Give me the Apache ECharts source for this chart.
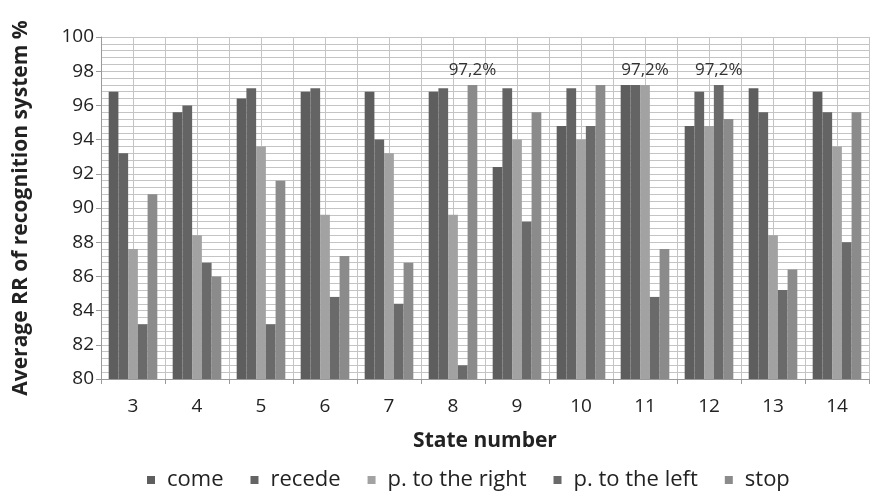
<!DOCTYPE html>
<html>
<head>
<meta charset="utf-8">
<script src="https://cdn.jsdelivr.net/npm/echarts@6/dist/echarts.min.js"></script>
<style>html,body{margin:0;padding:0;background:#fff}#c{width:871px;height:494px}</style>
</head>
<body>
<div id="c"></div>
<script>
const categories = ['3','4','5','6','7','8','9','10','11','12','13','14'];
const seriesNames = ['come','recede','p. to the right','p. to the left','stop'];
const come        = [96.8, 95.6, 96.4, 96.8, 96.8, 96.8, 92.4, 94.8, 97.2, 94.8, 97.0, 96.8];
const recede      = [93.2, 96.0, 97.0, 97.0, 94.0, 97.0, 97.0, 97.0, 97.2, 96.8, 95.6, 95.6];
const pRight      = [87.6, 88.4, 93.6, 89.6, 93.2, 89.6, 94.0, 94.0, 97.2, 94.8, 88.4, 93.6];
const pLeft       = [83.2, 86.8, 83.2, 84.8, 84.4, 80.8, 89.2, 94.8, 84.8, 97.2, 85.2, 88.0];
const stop        = [90.8, 86.0, 91.6, 87.2, 86.8, 97.2, 95.6, 97.2, 87.6, 95.2, 86.4, 95.6];
const yTicks = [80, 82, 84, 86, 88, 90, 92, 94, 96, 98, 100];
// labelled points: [series index, category]
const labelled = [[4, '8'], [2, '11'], [3, '12']];

const values = [come, recede, pRight, pLeft, stop];
const colors = ['#5e5e5e', '#646464', '#a2a2a2', '#6a6a6a', '#8b8b8b'];
const halfCats = [];
categories.forEach(c => { halfCats.push(c + 'a'); halfCats.push(c + 'b'); });

const font = '"Open Sans", "Liberation Sans", sans-serif';

const series = values.map((arr, si) => ({
  name: seriesNames[si],
  type: 'bar',
  xAxisIndex: 0,
  barGap: '0%',
  barCategoryGap: '24%',
  itemStyle: { color: colors[si] },
  data: arr.map((v, ci) => {
    const hit = labelled.some(l => l[0] === si && l[1] === categories[ci]);
    if (!hit) return v;
    return {
      value: v,
      label: {
        show: true, position: 'top', distance: 6,
        formatter: p => String(p.value).replace('.', ',') + '%',
        fontFamily: font, fontSize: 17, color: '#333'
      }
    };
  })
}));

const chart = echarts.init(document.getElementById('c'), null, { renderer: 'canvas' });
chart.setOption({
  animation: false,
  backgroundColor: '#fff',
  color: colors,
  grid: { left: 101, right: 2, top: 37, bottom: 115 },
  legend: {
    top: 464, left: 142,
    itemWidth: 8, itemHeight: 8, itemGap: 27,
    icon: 'rect',
    textStyle: { fontFamily: font, fontSize: 22, color: '#222', padding: [0, 0, 0, 7] },
    data: seriesNames
  },
  xAxis: [{
    type: 'category',
    data: categories,
    name: 'State number',
    nameLocation: 'middle',
    nameGap: 52,
    nameTextStyle: { fontFamily: font, fontSize: 21, fontWeight: 'bold', color: '#222' },
    axisLine: { lineStyle: { color: '#9a9a9a' } },
    axisTick: { show: true, length: 5, lineStyle: { color: '#9a9a9a' } },
    axisLabel: { fontFamily: font, fontSize: 19, color: '#222', margin: 18 },
    splitLine: { show: false }
  }, {
    type: 'category',
    data: halfCats,
    position: 'bottom',
    show: true,
    axisLine: { show: false },
    axisTick: { show: false },
    axisLabel: { show: false },
    splitLine: { show: true, lineStyle: { color: '#c4c4c4', width: 1 } }
  }],
  yAxis: {
    type: 'value',
    min: yTicks[0], max: yTicks[yTicks.length - 1], interval: 2,
    name: 'Average RR of recognition system %',
    nameLocation: 'middle',
    nameGap: 69,
    nameTextStyle: { fontFamily: font, fontSize: 21, fontWeight: 'bold', color: '#222' },
    axisLine: { show: true, lineStyle: { color: '#9a9a9a' } },
    axisTick: { show: true, length: 5, lineStyle: { color: '#9a9a9a' } },
    axisLabel: { fontFamily: font, fontSize: 19, color: '#222', margin: 7 },
    splitLine: { show: true, lineStyle: { color: '#c4c4c4' } },
    minorTick: { show: false, splitNumber: 5 },
    minorSplitLine: { show: true, lineStyle: { color: '#c4c4c4' } }
  },
  series: series
});
</script>
</body>
</html>
